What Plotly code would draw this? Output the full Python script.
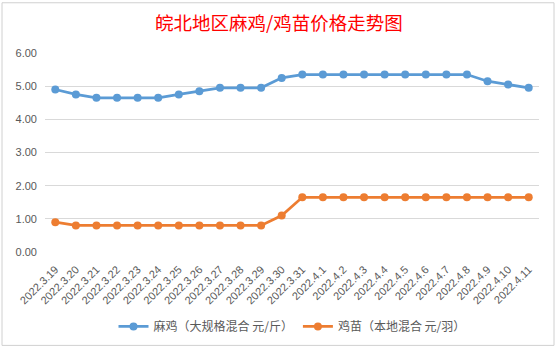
import plotly.graph_objects as go

dates = ["2022.3.19", "2022.3.20", "2022.3.21", "2022.3.22", "2022.3.23", "2022.3.24",
         "2022.3.25", "2022.3.26", "2022.3.27", "2022.3.28", "2022.3.29", "2022.3.30",
         "2022.3.31", "2022.4.1", "2022.4.2", "2022.4.3", "2022.4.4", "2022.4.5",
         "2022.4.6", "2022.4.7", "2022.4.8", "2022.4.9", "2022.4.10", "2022.4.11"]
maji = [4.90, 4.75, 4.65, 4.65, 4.65, 4.65, 4.75, 4.85, 4.95, 4.95, 4.95, 5.25,
        5.35, 5.35, 5.35, 5.35, 5.35, 5.35, 5.35, 5.35, 5.35, 5.15, 5.05, 4.95]
jimiao = [0.90, 0.80, 0.80, 0.80, 0.80, 0.80, 0.80, 0.80, 0.80, 0.80, 0.80, 1.10,
          1.65, 1.65, 1.65, 1.65, 1.65, 1.65, 1.65, 1.65, 1.65, 1.65, 1.65, 1.65]
yticks = [0, 1, 2, 3, 4, 5, 6]

fig = go.Figure()
fig.add_trace(go.Scatter(x=dates, y=maji, mode="lines+markers",
                         name="麻鸡（大规格混合 元/斤）",
                         line=dict(color="#5B9BD5", width=2.75),
                         marker=dict(size=8, color="#5B9BD5")))
fig.add_trace(go.Scatter(x=dates, y=jimiao, mode="lines+markers",
                         name="鸡苗（本地混合 元/羽）",
                         line=dict(color="#ED7D31", width=2.75),
                         marker=dict(size=8, color="#ED7D31")))

L, R, T, B = 45, 19, 52.6, 98
W, H = 558, 353
pw, ph = W - L - R, H - T - B

def px(x):
    return (x - L) / pw

def py(y):
    return (H - B - y) / ph

fig.add_shape(type="rect", xref="paper", yref="paper",
              x0=px(2), x1=px(554), y0=py(350), y1=py(1.5),
              line=dict(color="#D0D0D0", width=1), layer="below")

fig.update_layout(
    width=W, height=H,
    margin=dict(l=L, r=R, t=T, b=B),
    paper_bgcolor="white", plot_bgcolor="white",
    title=dict(text="皖北地区麻鸡/鸡苗价格走势图", x=0.5, xanchor="center",
               y=1 - 24 / H, yanchor="middle",
               font=dict(family="Noto Sans CJK SC", size=18.5, color="#FF0000")),
    font=dict(family="Liberation Sans, Noto Sans CJK SC", color="#595959", size=11),
    xaxis=dict(type="category", tickangle=-45, showgrid=False, zeroline=False,
               showline=False, ticks="", tickfont=dict(size=11, color="#595959"),
               ticklabelstandoff=8,
               range=[-0.5, len(dates) - 0.5]),
    yaxis=dict(range=[0, 6], tickvals=yticks, tickformat=".2f",
               showgrid=True, gridcolor="#D9D9D9", gridwidth=1, zeroline=False,
               showline=False, ticks="", tickfont=dict(size=11, color="#595959"),
               ticklabelstandoff=7),
    legend=dict(orientation="h", x=0.5, xanchor="center", y=py(330.7), yanchor="middle",
                font=dict(family="Noto Sans CJK SC", size=12, color="#595959"),
                bgcolor="rgba(0,0,0,0)", itemwidth=30, tracegroupgap=0),
    showlegend=True,
)

fig.write_html("out.html")
